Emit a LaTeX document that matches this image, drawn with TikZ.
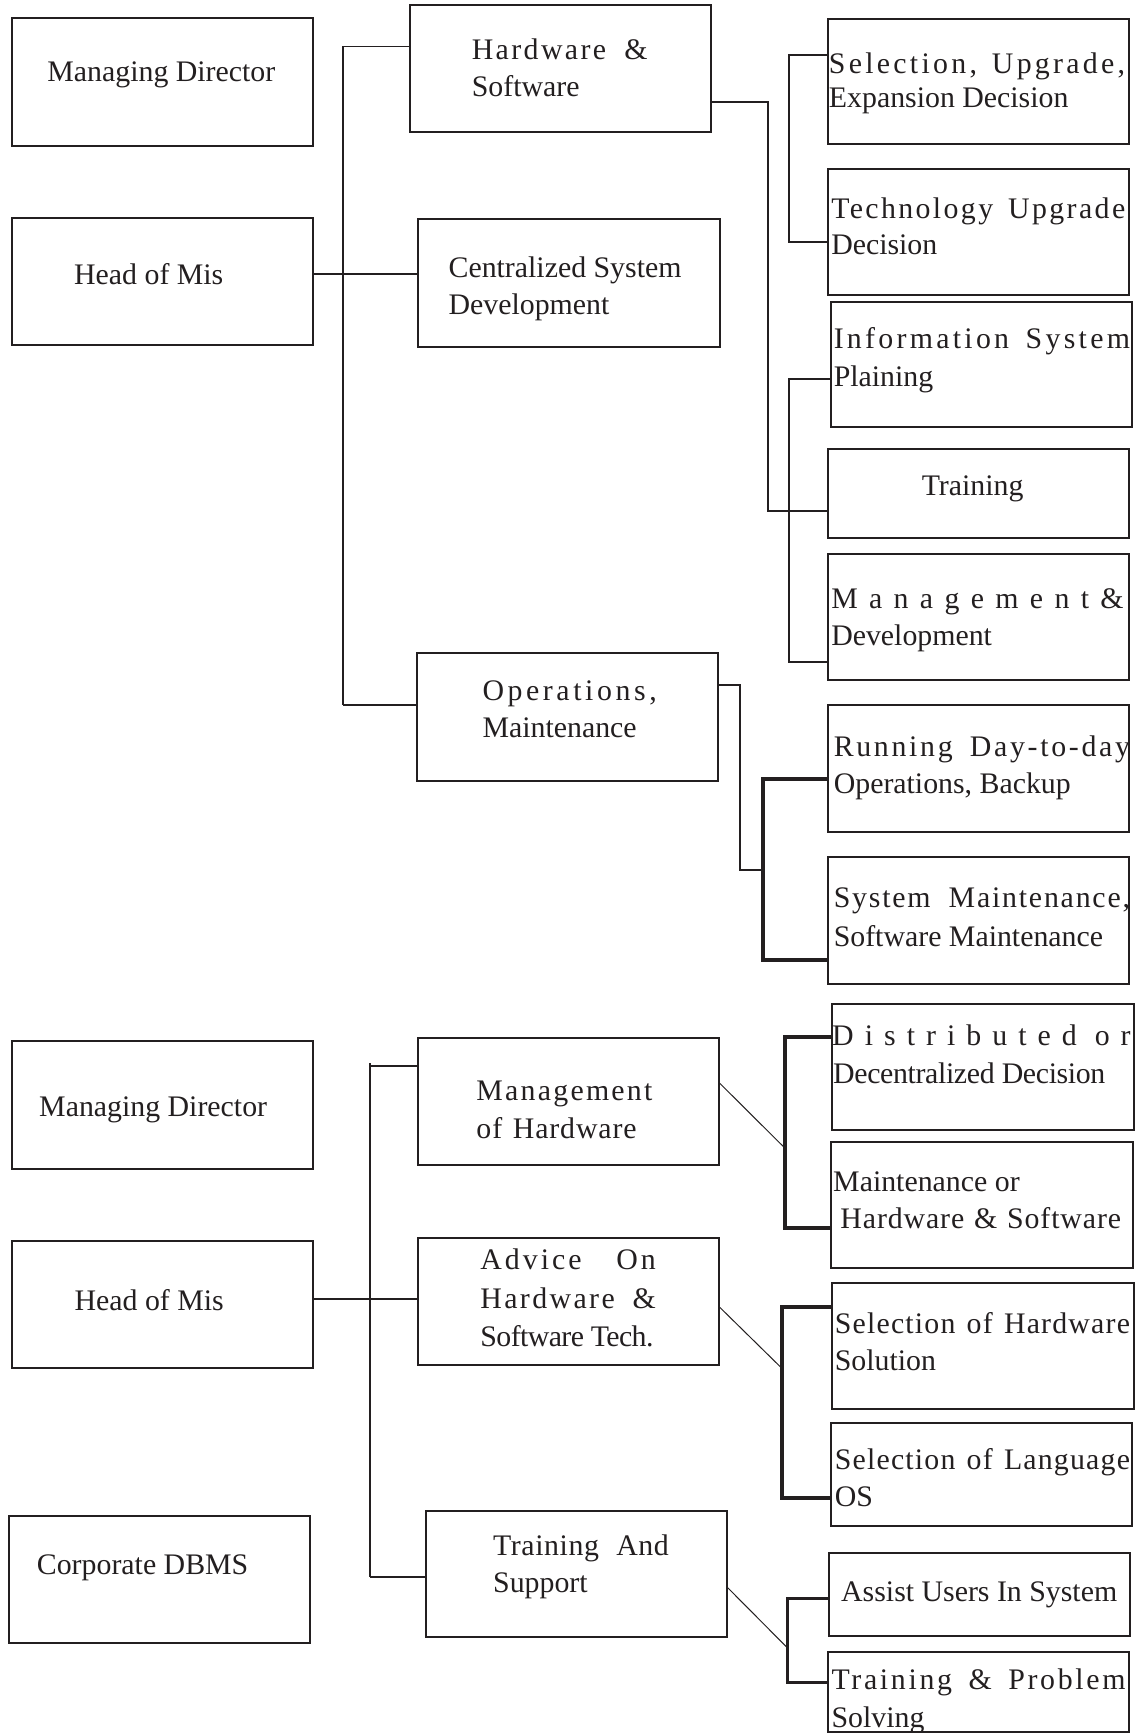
\documentclass[tikz,border=0pt]{standalone}
\usepackage{fontspec}
\setmainfont{Liberation Serif}
\usetikzlibrary{fit}
\newcommand\jl[3]{\makebox[#1][s]{\addfontfeature{LetterSpace=#2}#3}}
\newcommand\lsp[2]{{\addfontfeature{LetterSpace=#1}#2}}
\definecolor{ink}{HTML}{231F20}
\begin{document}
\begin{tikzpicture}[x=0.5pt,y=-0.5pt,
  font=\fontsize{13.5}{17}\selectfont,
  bx/.style={draw=ink, line width=0.9pt, inner sep=0pt, rectangle},
  tx/.style={inner sep=0pt, anchor=base west, text=ink},
  ln/.style={draw=ink, line width=0.8pt},
  thk/.style={line width=1.8pt},
  dg/.style={draw=ink, line width=0.45pt}]
\fill[white] (0,0) rectangle (1037,1568);
\useasboundingbox (0,0) rectangle (1037,1568);

% ---------- top boxes ----------
\node[bx,fit={(10.5,16.6)(283,131.8)}] (md1) {};
\node[bx,fit={(10.5,197.6)(283,312.2)}] (hm1) {};
\node[bx,fit={(370.6,4.5)(643.5,119)}] (hs) {};
\node[bx,fit={(378.5,198.5)(651.4,313.7)}] (csd) {};
\node[bx,fit={(377,591.2)(649.7,706.4)}] (om) {};
\node[bx,fit={(749,17)(1021.6,130.5)}] (sel) {};
\node[bx,fit={(749,152.7)(1021.6,266.6)}] (tech) {};
\node[bx,fit={(751.7,273)(1024,386.6)}] (is) {};
\node[bx,fit={(749,406)(1021.6,487.2)}] (trn) {};
\node[bx,fit={(749,501.3)(1021.6,615.3)}] (mgd) {};
\node[bx,fit={(749.4,638)(1021.8,752.6)}] (rdo) {};
\node[bx,fit={(749.4,775.8)(1021.8,890.4)}] (sm) {};

% ---------- bottom boxes ----------
\node[bx,fit={(10.5,942)(283,1057.6)}] (md2) {};
\node[bx,fit={(10.5,1123)(283,1237.6)}] (hm2) {};
\node[bx,fit={(8,1371.5)(280.5,1486.4)}] (db) {};
\node[bx,fit={(378,939.6)(650.5,1054.2)}] (moh) {};
\node[bx,fit={(378,1119.7)(650.5,1234.6)}] (aoh) {};
\node[bx,fit={(385.5,1367.5)(657.6,1481.5)}] (tas) {};
\node[bx,fit={(752.6,908.5)(1025.6,1022.4)}] (dist) {};
\node[bx,fit={(752,1033.3)(1025,1147.6)}] (mnt) {};
\node[bx,fit={(752.6,1160.6)(1025.6,1274.5)}] (shw) {};
\node[bx,fit={(751.8,1287.5)(1024.4,1381)}] (slg) {};
\node[bx,fit={(750.2,1405.3)(1022.6,1480)}] (ast) {};
\node[bx,fit={(749.6,1494.4)(1021.6,1567)}] (tps) {};

% ---------- top texts ----------
\node[tx] (md1t) at (42.5,73.3) {Managing Director};
\node[tx] (hm1t) at (66.7,257.5) {Head of Mis};
\node[tx] (hsa) at (426.5,53.7) {\jl{79.5pt}{8}{Hardware \&}};
\node[tx] (hsb) at (426.5,87.5) {Software};
\node[tx] (csda) at (405.5,251) {Centralized System};
\node[tx] (csdb) at (405.5,285) {Development};
\node[tx] (oma) at (436.2,633.4) {\lsp{12}{Operations,}};
\node[tx] (omb) at (436.2,667.2) {Maintenance};
\node[tx] (sela) at (749.6,66.7) {\jl{134pt}{11}{Selection, Upgrade,}};
\node[tx] (selb) at (749.6,97) {Expansion Decision};
\node[tx] (techa) at (751.7,197.5) {\jl{133pt}{8}{Technology Upgrade}};
\node[tx] (techb) at (751.7,230.5) {Decision};
\node[tx] (isa) at (754,315.5) {\jl{134pt}{11}{Information System}};
\node[tx] (isb) at (754,349.5) {Plaining};
\node[inner sep=0pt, anchor=base, text=ink] (trnt) at (880,448) {Training};
\node[tx] (mgda) at (751.7,551) {\lsp{38}{Management\&}};
\node[tx] (mgdb) at (751.7,584) {Development};
\node[tx] (rdoa) at (754,684.7) {\jl{134pt}{9}{Running Day-to-day}};
\node[tx] (rdob) at (754,718) {Operations, Backup};
\node[tx] (sma) at (754,821) {\jl{134pt}{6}{System Maintenance,}};
\node[tx] (smb) at (754,856.7) {Software Maintenance};

% ---------- bottom texts ----------
\node[tx] (md2t) at (35.1,1010.5) {Managing Director};
\node[tx] (hm2t) at (67.1,1185.4) {Head of Mis};
\node[tx] (dbt) at (33,1425) {Corporate DBMS};
\node[tx] (moha) at (430.7,995.4) {\lsp{7.5}{Management}};
\node[tx] (mohb) at (430.7,1030.4) {\jl{72.5pt}{3}{of Hardware}};
\node[tx] (aoha) at (434.3,1148.6) {\jl{79.3pt}{10}{Advice On}};
\node[tx] (aohb) at (434.3,1183.9) {\jl{79.3pt}{8}{Hardware \&}};
\node[tx] (aohc) at (434.3,1218.6) {\lsp{-2}{Software Tech.}};
\node[tx] (tasa) at (445.8,1407) {\jl{79.5pt}{2}{Training And}};
\node[tx] (tasb) at (445.8,1441.2) {Support};
\node[tx] (dista) at (752.6,945.5) {\jl{135pt}{37}{Distributed or}};
\node[tx] (distb) at (753.5,980.3) {\lsp{-1.2}{Decentralized Decision}};
\node[tx] (mnta) at (753.5,1078) {Maintenance or};
\node[tx] (mntb) at (760,1111.5) {\jl{127pt}{3}{Hardware \& Software}};
\node[tx] (shwa) at (755,1206.2) {\jl{133.5pt}{4}{Selection of Hardware}};
\node[tx] (shwb) at (755,1240.2) {Solution};
\node[tx] (slga) at (755,1330) {\jl{133.5pt}{4}{Selection of Language}};
\node[tx] (slgb) at (755,1362.7) {OS};
\node[tx] (astt) at (760.7,1448.8) {Assist Users In System};
\node[tx] (tpsa) at (752,1529) {\jl{133pt}{9}{Training \& Problem}};
\node[tx] (tpsb) at (752,1562.7) {Solving};

% ---------- top connectors ----------
\coordinate (busT) at (310.5,42);
\coordinate (busB) at (310.5,638);
\draw[ln] (busT) -- (busB);
\draw[ln] (busT) -- (busT -| hs.west);
\draw[ln] (busB) -- (busB -| om.west);
\coordinate (jh) at (330,248);
\draw[ln] (jh -| hm1.east) -- (jh -| csd.west);
\coordinate (hA) at (695,92);
\coordinate (hB) at (695,462.5);
\draw[ln] (hA -| hs.east) -- (hA) -- (hB) -- (hB -| trn.west);
\coordinate (aT) at (714,50);
\coordinate (aB) at (714,219);
\draw[ln] (aT -| sel.west) -- (aT) -- (aB) -- (aB -| tech.west);
\coordinate (bT) at (714,342.6);
\coordinate (bB) at (714,598.8);
\draw[ln] (bT -| is.west) -- (bT) -- (bB) -- (bB -| mgd.west);
\coordinate (oA) at (669.7,620);
\coordinate (oB) at (669.7,787);
\coordinate (oC) at (690.5,787);
\draw[ln] (oA -| om.east) -- (oA) -- (oB) -- (oC);
\coordinate (cT) at (690.5,705);
\coordinate (cB) at (690.5,868.5);
\draw[ln,thk] (cT -| rdo.west) -- (cT) -- (cB) -- (cB -| sm.west);

% ---------- bottom connectors ----------
\coordinate (bus2T) at (335,962);
\coordinate (bus2B) at (335,1426.5);
\draw[ln] (bus2T) -- (bus2B);
\coordinate (s1) at (335,964.5);
\draw[ln] (s1) -- (s1 -| moh.west);
\draw[ln] (bus2B) -- (bus2B -| tas.west);
\coordinate (h2) at (330,1175.6);
\draw[ln] (h2 -| hm2.east) -- (h2 -| aoh.west);
\coordinate (d1s) at (600,980.3);
\coordinate (d1e) at (710.4,1039);
\draw[dg] (d1s -| moh.east) -- (d1e);
\coordinate (dT) at (710.4,938);
\coordinate (dB) at (710.4,1110.7);
\draw[ln,thk] (dT -| dist.west) -- (dT) -- (dB) -- (dB -| mnt.west);
\coordinate (d2s) at (600,1183);
\coordinate (d2e) at (707.4,1238);
\draw[dg] (d2s -| aoh.east) -- (d2e);
\coordinate (eT) at (707.4,1182.4);
\coordinate (eB) at (707.4,1355.4);
\draw[ln,thk] (eT -| shw.west) -- (eT) -- (eB) -- (eB -| slg.west);
\coordinate (d3s) at (600,1436.6);
\coordinate (d3e) at (712.5,1491);
\draw[dg] (d3s -| tas.east) -- (d3e);
\coordinate (fT) at (712.5,1446);
\coordinate (fB) at (712.5,1522.2);
\draw[ln,line width=1.3pt] (fT -| ast.west) -- (fT) -- (fB) -- (fB -| tps.west);
\end{tikzpicture}
\end{document}
